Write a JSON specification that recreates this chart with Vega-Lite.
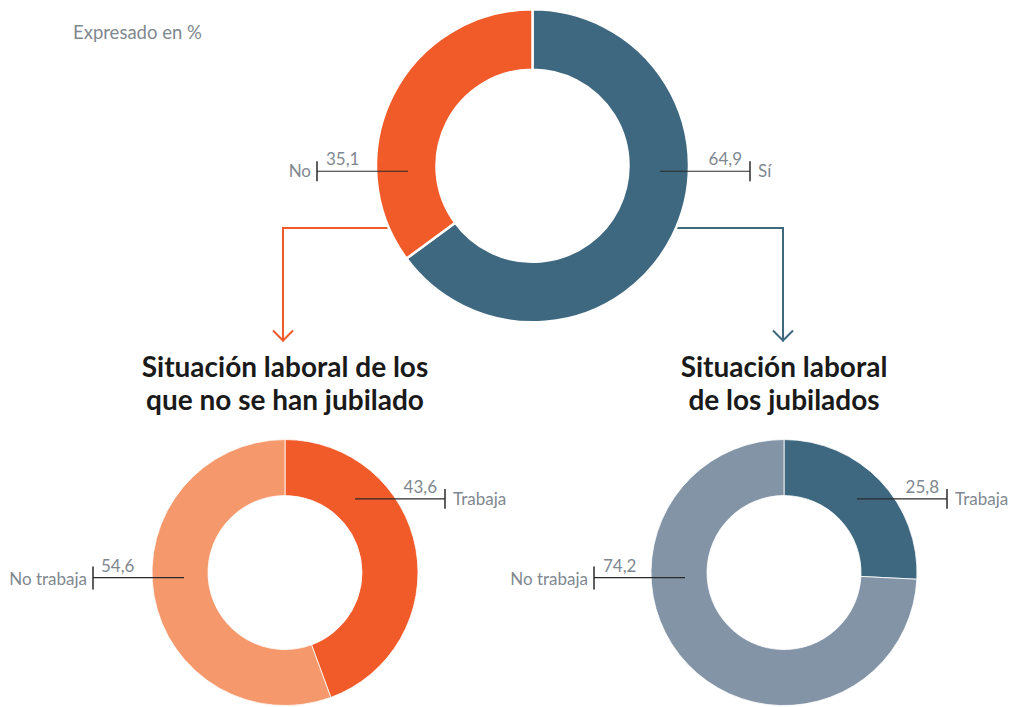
{
  "$schema": "https://vega.github.io/schema/vega-lite/v6.json",
  "width": 1012,
  "height": 707,
  "autosize": {"type": "fit", "contains": "padding"},
  "padding": 0,
  "background": "white",
  "config": {
    "view": {"stroke": null},
    "font": "Lato",
    "locale": {"number": {"decimal": ",", "thousands": ".", "grouping": [3], "currency": ["", " €"]}}
  },
  "data": {
    "values": [
      {"grafico": "Jubilación", "categoria": "Sí", "valor": 64.9},
      {"grafico": "Jubilación", "categoria": "No", "valor": 35.1},
      {"grafico": "No jubilados", "categoria": "Trabaja", "valor": 43.6},
      {"grafico": "No jubilados", "categoria": "No trabaja", "valor": 54.6},
      {"grafico": "Jubilados", "categoria": "Trabaja", "valor": 25.8},
      {"grafico": "Jubilados", "categoria": "No trabaja", "valor": 74.2}
    ]
  },
  "layer": [
    {
      "data": {"values": [{}]},
      "mark": {"type": "text", "text": "Expresado en %", "align": "left", "baseline": "middle", "fontSize": 18.5, "color": "#7f8890"},
      "encoding": {
        "x": {"datum": 73, "type": "quantitative", "scale": {"domain": [0, 1012], "nice": false, "zero": false}, "axis": null},
        "y": {"datum": 33, "type": "quantitative", "scale": {"domain": [0, 707], "nice": false, "zero": false, "reverse": true}, "axis": null}
      }
    },
    {
      "data": {"values": [{}]},
      "mark": {"type": "rule", "color": "#f15a29", "strokeWidth": 2, "strokeCap": "square"},
      "encoding": {"x": {"datum": 283, "type": "quantitative"}, "x2": {"datum": 392}, "y": {"datum": 229, "type": "quantitative"}}
    },
    {
      "data": {"values": [{}]},
      "mark": {"type": "rule", "color": "#f15a29", "strokeWidth": 2, "strokeCap": "square"},
      "encoding": {"x": {"datum": 283, "type": "quantitative"}, "y": {"datum": 229, "type": "quantitative"}, "y2": {"datum": 342}}
    },
    {
      "data": {"values": [{}]},
      "mark": {"type": "point", "shape": "M-1,-1L0,0L1,-1", "size": 400, "filled": false, "stroke": "#f15a29", "strokeWidth": 2, "opacity": 1},
      "encoding": {"x": {"datum": 283, "type": "quantitative"}, "y": {"datum": 342, "type": "quantitative"}}
    },
    {
      "data": {"values": [{}]},
      "mark": {"type": "rule", "color": "#3e6880", "strokeWidth": 2, "strokeCap": "square"},
      "encoding": {"x": {"datum": 674, "type": "quantitative"}, "x2": {"datum": 783}, "y": {"datum": 229, "type": "quantitative"}}
    },
    {
      "data": {"values": [{}]},
      "mark": {"type": "rule", "color": "#3e6880", "strokeWidth": 2, "strokeCap": "square"},
      "encoding": {"x": {"datum": 783, "type": "quantitative"}, "y": {"datum": 229, "type": "quantitative"}, "y2": {"datum": 342}}
    },
    {
      "data": {"values": [{}]},
      "mark": {"type": "point", "shape": "M-1,-1L0,0L1,-1", "size": 400, "filled": false, "stroke": "#3e6880", "strokeWidth": 2, "opacity": 1},
      "encoding": {"x": {"datum": 783, "type": "quantitative"}, "y": {"datum": 342, "type": "quantitative"}}
    },
    {
      "transform": [{"filter": "datum.grafico === 'Jubilación'"}],
      "mark": {"type": "arc", "outerRadius": 156.5, "innerRadius": 96, "stroke": "white", "strokeWidth": 2.5},
      "encoding": {
        "x": {"datum": 532.5, "type": "quantitative"},
        "y": {"datum": 166.5, "type": "quantitative"},
        "theta": {"field": "valor", "type": "quantitative", "stack": true},
        "order": {"field": "categoria", "sort": "descending"},
        "color": {"field": "categoria", "type": "nominal", "scale": {"domain": ["Sí", "No"], "range": ["#3e6880", "#f15a29"]}, "legend": null}
      }
    },
    {
      "transform": [{"filter": "datum.grafico === 'No jubilados'"}],
      "mark": {"type": "arc", "outerRadius": 133, "innerRadius": 77, "stroke": "white", "strokeWidth": 0.8},
      "encoding": {
        "x": {"datum": 285, "type": "quantitative"},
        "y": {"datum": 575, "type": "quantitative"},
        "theta": {"field": "valor", "type": "quantitative", "stack": true},
        "order": {"field": "categoria", "sort": "descending"},
        "color": {"field": "categoria", "type": "nominal", "scale": {"domain": ["Trabaja", "No trabaja"], "range": ["#f15a29", "#f5996d"]}, "legend": null}
      }
    },
    {
      "transform": [{"filter": "datum.grafico === 'Jubilados'"}],
      "mark": {"type": "arc", "outerRadius": 133, "innerRadius": 77, "stroke": "white", "strokeWidth": 0.8},
      "encoding": {
        "x": {"datum": 784, "type": "quantitative"},
        "y": {"datum": 575, "type": "quantitative"},
        "theta": {"field": "valor", "type": "quantitative", "stack": true},
        "order": {"field": "categoria", "sort": "descending"},
        "color": {"field": "categoria", "type": "nominal", "scale": {"domain": ["Trabaja", "No trabaja"], "range": ["#3e6880", "#8394a7"]}, "legend": null}
      }
    },

    {"transform": [{"filter": "datum.grafico === 'Jubilación' && datum.categoria === 'No'"}],
     "mark": {"type": "rule", "color": "#2a2a2a", "strokeWidth": 1.2},
     "encoding": {"x": {"datum": 317, "type": "quantitative"}, "x2": {"datum": 408}, "y": {"datum": 172, "type": "quantitative"}}},
    {"transform": [{"filter": "datum.grafico === 'Jubilación' && datum.categoria === 'No'"}],
     "mark": {"type": "rule", "color": "#2a2a2a", "strokeWidth": 1.5},
     "encoding": {"x": {"datum": 317, "type": "quantitative"}, "y": {"datum": 162, "type": "quantitative"}, "y2": {"datum": 182}}},
    {"transform": [{"filter": "datum.grafico === 'Jubilación' && datum.categoria === 'No'"}],
     "mark": {"type": "text", "align": "left", "baseline": "alphabetic", "fontSize": 17, "color": "#7f8890"},
     "encoding": {"x": {"datum": 326, "type": "quantitative"}, "y": {"datum": 166, "type": "quantitative"}, "text": {"field": "valor", "type": "quantitative", "format": ".1f"}}},
    {"transform": [{"filter": "datum.grafico === 'Jubilación' && datum.categoria === 'No'"}],
     "mark": {"type": "text", "align": "right", "baseline": "middle", "fontSize": 17, "color": "#7f8890"},
     "encoding": {"x": {"datum": 311, "type": "quantitative"}, "y": {"datum": 173, "type": "quantitative"}, "text": {"field": "categoria"}}},

    {"transform": [{"filter": "datum.grafico === 'Jubilación' && datum.categoria === 'Sí'"}],
     "mark": {"type": "rule", "color": "#2a2a2a", "strokeWidth": 1.2},
     "encoding": {"x": {"datum": 660, "type": "quantitative"}, "x2": {"datum": 750}, "y": {"datum": 172, "type": "quantitative"}}},
    {"transform": [{"filter": "datum.grafico === 'Jubilación' && datum.categoria === 'Sí'"}],
     "mark": {"type": "rule", "color": "#2a2a2a", "strokeWidth": 1.5},
     "encoding": {"x": {"datum": 750, "type": "quantitative"}, "y": {"datum": 162, "type": "quantitative"}, "y2": {"datum": 182}}},
    {"transform": [{"filter": "datum.grafico === 'Jubilación' && datum.categoria === 'Sí'"}],
     "mark": {"type": "text", "align": "right", "baseline": "alphabetic", "fontSize": 17, "color": "#7f8890"},
     "encoding": {"x": {"datum": 742, "type": "quantitative"}, "y": {"datum": 166, "type": "quantitative"}, "text": {"field": "valor", "type": "quantitative", "format": ".1f"}}},
    {"transform": [{"filter": "datum.grafico === 'Jubilación' && datum.categoria === 'Sí'"}],
     "mark": {"type": "text", "align": "left", "baseline": "middle", "fontSize": 17, "color": "#7f8890"},
     "encoding": {"x": {"datum": 758, "type": "quantitative"}, "y": {"datum": 173, "type": "quantitative"}, "text": {"field": "categoria"}}},

    {"transform": [{"filter": "datum.grafico === 'No jubilados' && datum.categoria === 'Trabaja'"}],
     "mark": {"type": "rule", "color": "#2a2a2a", "strokeWidth": 1.2},
     "encoding": {"x": {"datum": 355, "type": "quantitative"}, "x2": {"datum": 445}, "y": {"datum": 501, "type": "quantitative"}}},
    {"transform": [{"filter": "datum.grafico === 'No jubilados' && datum.categoria === 'Trabaja'"}],
     "mark": {"type": "rule", "color": "#2a2a2a", "strokeWidth": 1.5},
     "encoding": {"x": {"datum": 445, "type": "quantitative"}, "y": {"datum": 491, "type": "quantitative"}, "y2": {"datum": 511}}},
    {"transform": [{"filter": "datum.grafico === 'No jubilados' && datum.categoria === 'Trabaja'"}],
     "mark": {"type": "text", "align": "right", "baseline": "alphabetic", "fontSize": 17, "color": "#7f8890"},
     "encoding": {"x": {"datum": 437, "type": "quantitative"}, "y": {"datum": 495, "type": "quantitative"}, "text": {"field": "valor", "type": "quantitative", "format": ".1f"}}},
    {"transform": [{"filter": "datum.grafico === 'No jubilados' && datum.categoria === 'Trabaja'"}],
     "mark": {"type": "text", "align": "left", "baseline": "middle", "fontSize": 17, "color": "#7f8890"},
     "encoding": {"x": {"datum": 453, "type": "quantitative"}, "y": {"datum": 502, "type": "quantitative"}, "text": {"field": "categoria"}}},

    {"transform": [{"filter": "datum.grafico === 'No jubilados' && datum.categoria === 'No trabaja'"}],
     "mark": {"type": "rule", "color": "#2a2a2a", "strokeWidth": 1.2},
     "encoding": {"x": {"datum": 93, "type": "quantitative"}, "x2": {"datum": 184}, "y": {"datum": 580, "type": "quantitative"}}},
    {"transform": [{"filter": "datum.grafico === 'No jubilados' && datum.categoria === 'No trabaja'"}],
     "mark": {"type": "rule", "color": "#2a2a2a", "strokeWidth": 1.5},
     "encoding": {"x": {"datum": 93, "type": "quantitative"}, "y": {"datum": 569, "type": "quantitative"}, "y2": {"datum": 592}}},
    {"transform": [{"filter": "datum.grafico === 'No jubilados' && datum.categoria === 'No trabaja'"}],
     "mark": {"type": "text", "align": "left", "baseline": "alphabetic", "fontSize": 17, "color": "#7f8890"},
     "encoding": {"x": {"datum": 101, "type": "quantitative"}, "y": {"datum": 574, "type": "quantitative"}, "text": {"field": "valor", "type": "quantitative", "format": ".1f"}}},
    {"transform": [{"filter": "datum.grafico === 'No jubilados' && datum.categoria === 'No trabaja'"}],
     "mark": {"type": "text", "align": "right", "baseline": "middle", "fontSize": 17, "color": "#7f8890"},
     "encoding": {"x": {"datum": 87, "type": "quantitative"}, "y": {"datum": 582, "type": "quantitative"}, "text": {"field": "categoria"}}},

    {"transform": [{"filter": "datum.grafico === 'Jubilados' && datum.categoria === 'Trabaja'"}],
     "mark": {"type": "rule", "color": "#2a2a2a", "strokeWidth": 1.2},
     "encoding": {"x": {"datum": 857, "type": "quantitative"}, "x2": {"datum": 947}, "y": {"datum": 501, "type": "quantitative"}}},
    {"transform": [{"filter": "datum.grafico === 'Jubilados' && datum.categoria === 'Trabaja'"}],
     "mark": {"type": "rule", "color": "#2a2a2a", "strokeWidth": 1.5},
     "encoding": {"x": {"datum": 947, "type": "quantitative"}, "y": {"datum": 491, "type": "quantitative"}, "y2": {"datum": 511}}},
    {"transform": [{"filter": "datum.grafico === 'Jubilados' && datum.categoria === 'Trabaja'"}],
     "mark": {"type": "text", "align": "right", "baseline": "alphabetic", "fontSize": 17, "color": "#7f8890"},
     "encoding": {"x": {"datum": 939, "type": "quantitative"}, "y": {"datum": 495, "type": "quantitative"}, "text": {"field": "valor", "type": "quantitative", "format": ".1f"}}},
    {"transform": [{"filter": "datum.grafico === 'Jubilados' && datum.categoria === 'Trabaja'"}],
     "mark": {"type": "text", "align": "left", "baseline": "middle", "fontSize": 17, "color": "#7f8890"},
     "encoding": {"x": {"datum": 955, "type": "quantitative"}, "y": {"datum": 502, "type": "quantitative"}, "text": {"field": "categoria"}}},

    {"transform": [{"filter": "datum.grafico === 'Jubilados' && datum.categoria === 'No trabaja'"}],
     "mark": {"type": "rule", "color": "#2a2a2a", "strokeWidth": 1.2},
     "encoding": {"x": {"datum": 594, "type": "quantitative"}, "x2": {"datum": 685}, "y": {"datum": 580, "type": "quantitative"}}},
    {"transform": [{"filter": "datum.grafico === 'Jubilados' && datum.categoria === 'No trabaja'"}],
     "mark": {"type": "rule", "color": "#2a2a2a", "strokeWidth": 1.5},
     "encoding": {"x": {"datum": 594, "type": "quantitative"}, "y": {"datum": 569, "type": "quantitative"}, "y2": {"datum": 592}}},
    {"transform": [{"filter": "datum.grafico === 'Jubilados' && datum.categoria === 'No trabaja'"}],
     "mark": {"type": "text", "align": "left", "baseline": "alphabetic", "fontSize": 17, "color": "#7f8890"},
     "encoding": {"x": {"datum": 603, "type": "quantitative"}, "y": {"datum": 574, "type": "quantitative"}, "text": {"field": "valor", "type": "quantitative", "format": ".1f"}}},
    {"transform": [{"filter": "datum.grafico === 'Jubilados' && datum.categoria === 'No trabaja'"}],
     "mark": {"type": "text", "align": "right", "baseline": "middle", "fontSize": 17, "color": "#7f8890"},
     "encoding": {"x": {"datum": 588, "type": "quantitative"}, "y": {"datum": 582, "type": "quantitative"}, "text": {"field": "categoria"}}},

    {
      "data": {"values": [{}]},
      "mark": {"type": "text", "text": ["Situación laboral de los", "que no se han jubilado"], "align": "center", "baseline": "middle", "fontSize": 28, "fontWeight": "bold", "lineHeight": 33, "color": "#1a1a1a"},
      "encoding": {"x": {"datum": 285, "type": "quantitative"}, "y": {"datum": 371, "type": "quantitative"}}
    },
    {
      "data": {"values": [{}]},
      "mark": {"type": "text", "text": ["Situación laboral", "de los jubilados"], "align": "center", "baseline": "middle", "fontSize": 28, "fontWeight": "bold", "lineHeight": 33, "color": "#1a1a1a"},
      "encoding": {"x": {"datum": 784, "type": "quantitative"}, "y": {"datum": 371, "type": "quantitative"}}
    }
  ],
  "resolve": {"scale": {"theta": "independent", "color": "independent"}}
}
